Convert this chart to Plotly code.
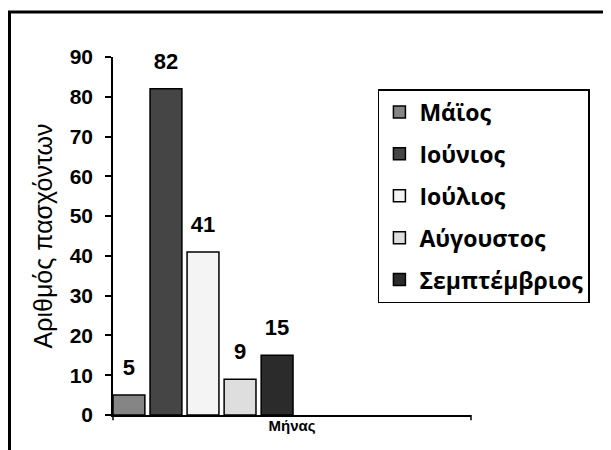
import plotly.graph_objects as go

category = ["Μήνας"]
months = ["Μάϊος", "Ιούνιος", "Ιούλιος", "Αύγουστος", "Σεμπτέμβριος"]
patients = [5, 82, 41, 9, 15]
colors = ["#858585", "#454545", "#f4f4f4", "#dedede", "#2b2b2b"]
y_ticks = [0, 10, 20, 30, 40, 50, 60, 70, 80, 90]

fig = go.Figure()
for m, v, c in zip(months, patients, colors):
    fig.add_trace(go.Bar(
        x=category, y=[v], name=m,
        marker=dict(color=c, line=dict(color="black", width=1.5)),
        legendgroup=m,
    ))
for m, v in zip(months, patients):
    fig.add_trace(go.Scatter(
        x=category, y=[v], mode="markers+text", text=[str(v)],
        textposition="top center", cliponaxis=False,
        textfont=dict(family="Liberation Sans", size=22, color="black", weight="bold"),
        marker=dict(size=22, opacity=0),
        showlegend=False, hoverinfo="skip",
    ))

fig.update_layout(
    width=603, height=442,
    margin=dict(l=105, r=140, t=49, b=35),
    paper_bgcolor="white", plot_bgcolor="white",
    barmode="group", bargap=0, bargroupgap=0.14,
    scattermode="group", scattergap=0,
    showlegend=True,
    legend=dict(
        x=0.74, y=0.9106, xanchor="left", yanchor="top",
        bordercolor="black", borderwidth=1.5, bgcolor="white",
        font=dict(family="Open Sans", size=23, color="black", weight="bold"),
        tracegroupgap=9, itemwidth=30,
    ),
    xaxis=dict(
        range=[-0.486, 1.447], showticklabels=False, ticks="",
        showline=True, linecolor="black", linewidth=1.5, showgrid=False,
        title=dict(text="Μήνας", standoff=5,
                   font=dict(family="Liberation Sans", size=15, color="black", weight="bold")),
    ),
    yaxis=dict(
        range=[0, 90], tickvals=y_ticks, ticks="outside", ticklen=6, tickcolor="black",
        tickwidth=1.5, showline=True, linecolor="black", linewidth=1.5, showgrid=False,
        zeroline=False, ticklabelstandoff=8,
        tickfont=dict(family="Liberation Sans", size=21, color="black", weight="bold"),
        title=dict(text="Αριθμός πασχόντων", standoff=10,
                   font=dict(family="Liberation Sans", size=25, color="black")),
    ),
    shapes=[
        dict(type="rect", xref="paper", yref="paper", x0=-0.2891, x1=1.5, y0=-0.5, y1=1.1257,
             line=dict(color="black", width=3), fillcolor="rgba(0,0,0,0)", layer="below"),
        dict(type="line", xref="x domain", yref="y domain", x0=1, x1=1, y0=0, y1=-0.015,
             line=dict(color="black", width=1.5)),
        dict(type="line", xref="x domain", yref="y domain", x0=0, x1=0, y0=0, y1=-0.015,
             line=dict(color="black", width=1.5)),
    ],
)
fig.write_html("out.html")
